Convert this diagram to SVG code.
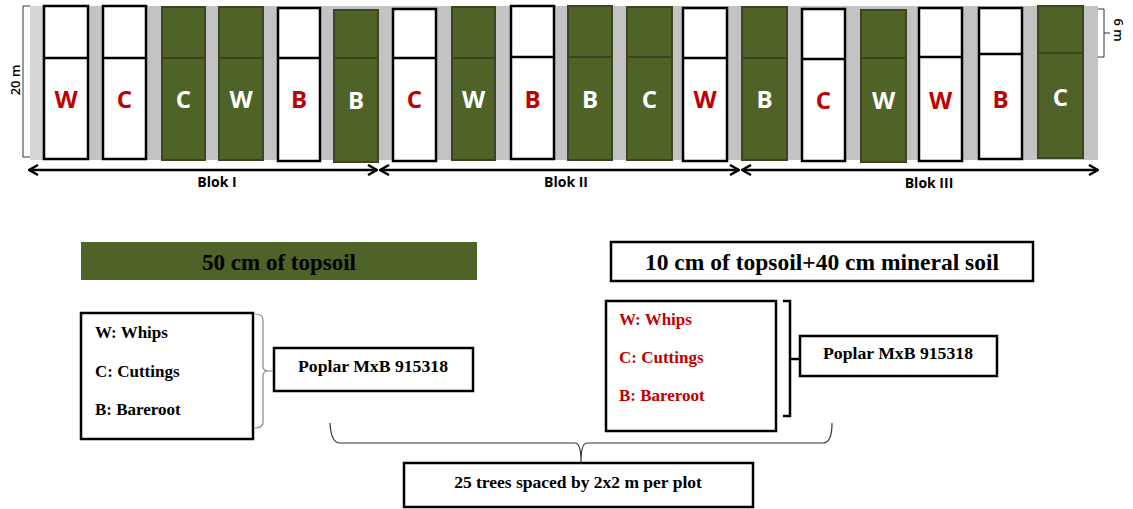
<svg xmlns="http://www.w3.org/2000/svg" width="1133" height="509" viewBox="0 0 1133 509">
<style>
.g{fill:#4f6228;stroke:#3e4423;stroke-width:2}
.w{fill:#ffffff;stroke:#000000;stroke-width:2.5}
.dg{stroke:#3e4423;stroke-width:2;fill:none}
.dw{stroke:#000;stroke-width:2.5;fill:none}
.lt{font-family:"Open Sans","Liberation Sans",sans-serif;font-weight:700;font-size:24px;text-anchor:middle}
.red{fill:#c00000}
.wh{fill:#ffffff}
.blok{font-family:"Open Sans","Liberation Sans",sans-serif;font-weight:700;font-size:14px;text-anchor:middle;fill:#000}
.dim{font-family:"Open Sans","Liberation Sans",sans-serif;font-weight:600;font-size:13px;text-anchor:middle;fill:#000}
.sf{font-family:"Liberation Serif","Times New Roman",serif;font-weight:700;fill:#000}
.box{fill:#fff;stroke:#000;stroke-width:2.5}
.arr{stroke:#000;stroke-width:2.5;fill:none}
</style>
<defs>
<marker id="ah" viewBox="0 0 12 12" refX="11" refY="6" markerWidth="12" markerHeight="12" markerUnits="userSpaceOnUse" orient="auto-start-reverse">
<path d="M2,1 L11,6 L2,11" fill="none" stroke="#000" stroke-width="2.5"/>
</marker>
</defs>
<rect width="1133" height="509" fill="#ffffff"/>
<!-- field background -->
<rect x="30" y="6" width="1068" height="154" fill="#c3c3c3"/>
<rect x="30" y="6" width="12" height="154" fill="#d6d6d6"/>
<!-- plots -->
<g id="plot1"><rect class="w" x="44" y="6" width="44" height="153"/><line class="dw" x1="44" y1="58" x2="88" y2="58"/><text class="lt red" x="66" y="108">W</text></g>
<g id="plot2"><rect class="w" x="103" y="6" width="43" height="153"/><line class="dw" x1="103" y1="58" x2="146" y2="58"/><text class="lt red" x="124.5" y="108">C</text></g>
<g id="plot3"><rect class="g" x="162" y="7" width="43" height="153"/><line class="dg" x1="162" y1="58" x2="205" y2="58"/><text class="lt wh" x="183.5" y="108">C</text></g>
<g id="plot4"><rect class="g" x="219" y="7" width="44" height="153"/><line class="dg" x1="219" y1="58" x2="263" y2="58"/><text class="lt wh" x="241" y="108">W</text></g>
<g id="plot5"><rect class="w" x="278" y="8" width="42" height="153"/><line class="dw" x1="278" y1="58" x2="320" y2="58"/><text class="lt red" x="299" y="108">B</text></g>
<g id="plot6"><rect class="g" x="334" y="10" width="44" height="152" stroke="#222"/><line class="dg" x1="334" y1="58" x2="378" y2="58" stroke="#222"/><text class="lt wh" x="356" y="109">B</text></g>
<g id="plot7"><rect class="w" x="393" y="9" width="43" height="152"/><line class="dw" x1="393" y1="58" x2="436" y2="58"/><text class="lt red" x="414.5" y="108">C</text></g>
<g id="plot8"><rect class="g" x="452" y="7" width="43" height="153" stroke="#222"/><line class="dg" x1="452" y1="58" x2="495" y2="58" stroke="#222"/><text class="lt wh" x="473.5" y="108">W</text></g>
<g id="plot9"><rect class="w" x="511" y="6" width="43" height="153"/><line class="dw" x1="511" y1="57" x2="554" y2="57"/><text class="lt red" x="532.5" y="108">B</text></g>
<g id="plot10"><rect class="g" x="568" y="6" width="44" height="154"/><line class="dg" x1="568" y1="57" x2="612" y2="57"/><text class="lt wh" x="590" y="108">B</text></g>
<g id="plot11"><rect class="g" x="627" y="7" width="45" height="153"/><line class="dg" x1="627" y1="57" x2="672" y2="57"/><text class="lt wh" x="649.5" y="108">C</text></g>
<g id="plot12"><rect class="w" x="683" y="8" width="44" height="153"/><line class="dw" x1="683" y1="58" x2="727" y2="58"/><text class="lt red" x="705" y="108">W</text></g>
<g id="plot13"><rect class="g" x="742" y="7" width="45" height="153"/><line class="dg" x1="742" y1="58" x2="787" y2="58"/><text class="lt wh" x="764.5" y="108">B</text></g>
<g id="plot14"><rect class="w" x="802" y="9" width="43" height="152"/><line class="dw" x1="802" y1="59" x2="845" y2="59"/><text class="lt red" x="823.5" y="109">C</text></g>
<g id="plot15"><rect class="g" x="861" y="10" width="45" height="152"/><line class="dg" x1="861" y1="58" x2="906" y2="58"/><text class="lt wh" x="883.5" y="109">W</text></g>
<g id="plot16"><rect class="w" x="919" y="8" width="43" height="153"/><line class="dw" x1="919" y1="57" x2="962" y2="57"/><text class="lt red" x="940.5" y="109">W</text></g>
<g id="plot17"><rect class="w" x="979" y="8" width="43" height="151"/><line class="dw" x1="979" y1="54" x2="1022" y2="54"/><text class="lt red" x="1000.5" y="108">B</text></g>
<g id="plot18"><rect class="g" x="1038" y="6" width="45" height="152"/><line class="dg" x1="1038" y1="53" x2="1083" y2="53"/><text class="lt wh" x="1060.5" y="106">C</text></g>
<!-- dimensions -->
<g id="dim20">
<path d="M30,6 H23 V157 H30" fill="none" stroke="#333" stroke-width="1"/>
<text class="dim" transform="translate(20,80) rotate(-90)">20 m</text>
</g>
<g id="dim6">
<path d="M1098,9 H1104 V57 H1098 M1104,33 H1110" fill="none" stroke="#333" stroke-width="1"/>
<text class="dim" transform="translate(1114,30) rotate(90)">6 m</text>
</g>
<!-- block arrows and braces -->
<g id="connectors">
<line class="arr" x1="29" y1="170" x2="377" y2="170" marker-start="url(#ah)" marker-end="url(#ah)"/>
<line class="arr" x1="380" y1="170" x2="739" y2="170" marker-start="url(#ah)" marker-end="url(#ah)"/>
<line class="arr" x1="742" y1="170" x2="1098" y2="170" marker-start="url(#ah)" marker-end="url(#ah)"/>
<path id="braceL" d="M255,314 Q263,314 263,320 V366 Q263,371 268,371 H274 M268,371 Q263,371 263,376 V422 Q263,428 255,428" fill="none" stroke="#888" stroke-width="1.2"/>
<path id="braceR" d="M783,301 H790 V416 H783 M790,359 H800" fill="none" stroke="#000" stroke-width="2.5"/>
<path id="braceB" d="M330,423 Q331,443 340,443 H575 Q581,443 581,462 Q581,443 587,443 H823 Q832,443 832,423" fill="none" stroke="#333" stroke-width="1.2"/>
</g>
<g id="blok-labels">
<text class="blok" x="217" y="187">Blok I</text>
<text class="blok" x="566" y="187">Blok II</text>
<text class="blok" x="929" y="188">Blok III</text>
</g>
<!-- bottom section -->
<g id="topsoil50">
<rect x="81" y="242" width="396" height="38" fill="#4f6228"/>
<text class="sf" x="279" y="270" font-size="23" text-anchor="middle">50 cm of topsoil</text>
</g>
<g id="topsoil10">
<rect class="box" x="611" y="242" width="422" height="39"/>
<text class="sf" x="822" y="270" font-size="23.5" text-anchor="middle">10 cm of topsoil+40 cm mineral soil</text>
</g>
<g id="legendL">
<rect class="box" x="81" y="313" width="172" height="126"/>
<text class="sf" x="95" y="338" font-size="17">W: Whips</text>
<text class="sf" x="95" y="377" font-size="17">C: Cuttings</text>
<text class="sf" x="95" y="415" font-size="17">B: Bareroot</text>
</g>
<g id="poplarL">
<rect class="box" x="274" y="348" width="199" height="43"/>
<text class="sf" x="373" y="372" font-size="17.7" text-anchor="middle">Poplar MxB 915318</text>
</g>
<g id="legendR">
<rect class="box" x="606" y="301" width="170" height="130"/>
<text class="sf" x="619" y="325" font-size="17" style="fill:#c00000">W: Whips</text>
<text class="sf" x="619" y="363" font-size="17" style="fill:#c00000">C: Cuttings</text>
<text class="sf" x="619" y="401" font-size="17" style="fill:#c00000">B: Bareroot</text>
</g>
<g id="poplarR">
<rect class="box" x="800" y="336" width="197" height="40"/>
<text class="sf" x="898" y="359" font-size="17.7" text-anchor="middle">Poplar MxB 915318</text>
</g>
<g id="trees">
<rect class="box" x="404" y="463" width="349" height="44" stroke-width="3"/>
<text class="sf" x="578" y="488" font-size="17.5" text-anchor="middle">25 trees spaced by 2x2 m per plot</text>
</g>
</svg>
